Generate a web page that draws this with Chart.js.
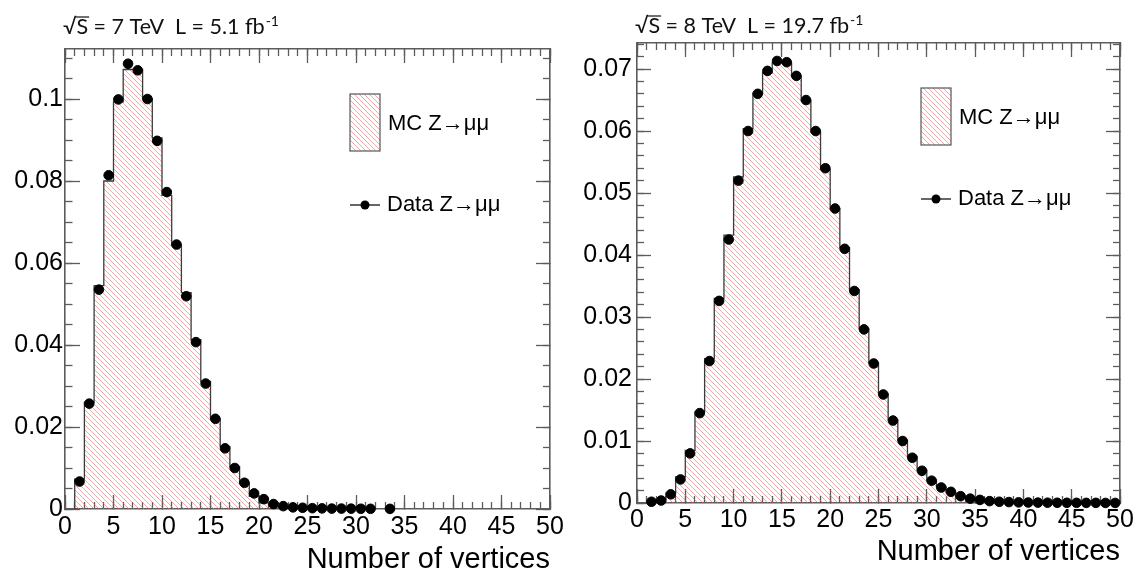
<!DOCTYPE html>
<html>
<head>
<meta charset="utf-8">
<script src="https://cdn.jsdelivr.net/npm/chart.js@4.4.1/dist/chart.umd.min.js"></script>
<style>
  html, body { margin: 0; padding: 0; background: #fff; }
  body { width: 1141px; height: 579px; position: relative; overflow: hidden; }
  canvas { position: absolute; top: 0; }
  #c7 { left: 0; }
  #c8 { left: 570px; }
</style>
</head>
<body>
<canvas id="c7" width="570" height="579"></canvas>
<canvas id="c8" width="571" height="579"></canvas>
<script>
/* Primary vertex multiplicity, Z -> mumu events, 2011 (7 TeV) and 2012 (8 TeV) */

const X_TITLE = 'Number of vertices';
const MC_LABEL = 'MC Z\u2192\u03bc\u03bc';
const DATA_LABEL = 'Data Z\u2192\u03bc\u03bc';
const X_TICK_STEP = 5;

// 7 TeV, L = 5.1 fb-1  (one entry per unit bin, first bin starts at 1)
const energy7 = '7';
const lumi7 = '5.1';
const data7Start = 1;
const data7 = [0.0067, 0.0257, 0.0535, 0.0814, 0.0999, 0.1086, 0.1070, 0.1000, 0.0898, 0.0773,
               0.0645, 0.0519, 0.0407, 0.0306, 0.0220, 0.0148, 0.0100, 0.0064, 0.0038, 0.0024,
               0.0012, 0.0007, 0.0004, 0.0003, 0.0002, 0.00015, 0.0001, 0.0001, 0.00008, 0.00006,
               0.00005, null, 0.00003];
const mc7Start = 1;
const mc7 = [0.0073, 0.0260, 0.0545, 0.0800, 0.0993, 0.1072, 0.1072, 0.1000, 0.0905, 0.0765,
             0.0643, 0.0528, 0.0413, 0.0311, 0.0220, 0.0152, 0.0103, 0.0063, 0.0031, 0.0015,
             0.0008, 0.0004, 0.0002, 0.0001, 0.00005, 0.00003, 0.00002, 0.00001];
const yMax7 = 0.1122;
const yStep7 = 0.02;
const yMinorStep7 = 0.005;

// 8 TeV, L = 19.7 fb-1
const energy8 = '8';
const lumi8 = '19.7';
const data8Start = 1;
const data8 = [0.0002, 0.0004, 0.0014, 0.0038, 0.0080, 0.0145, 0.0229, 0.0326, 0.0425, 0.0520,
               0.0600, 0.0660, 0.0697, 0.0713, 0.0711, 0.0689, 0.0650, 0.0600, 0.0540, 0.0475,
               0.0410, 0.0342, 0.0280, 0.0225, 0.0175, 0.0133, 0.0100, 0.0073, 0.0052, 0.0036,
               0.0025, 0.0018, 0.0011, 0.0007, 0.0005, 0.0003, 0.0002, 0.00015, 0.0001, 0.00008,
               0.00006, 0.00005, 0.00004, 0.00003, 0.00003, 0.00002, 0.00002, 0.00001, 0.00001];
const mc8Start = 1;
const mc8 = [0.0001, 0.0005, 0.0016, 0.0042, 0.0085, 0.0147, 0.0233, 0.0330, 0.0432, 0.0526,
             0.0604, 0.0661, 0.0694, 0.0710, 0.0710, 0.0688, 0.0649, 0.0598, 0.0538, 0.0475,
             0.0412, 0.0344, 0.0281, 0.0226, 0.0176, 0.0134, 0.0101, 0.0075, 0.0053, 0.0037,
             0.0026, 0.0017, 0.0011, 0.0007, 0.0004, 0.0003, 0.0002, 0.0001, 0.00008, 0.00005];
const yMax8 = 0.0742;
const yStep8 = 0.01;
const yMinorStep8 = 0.002;

const AXIS_COLOR = '#5c5c5c';
const FONT = '"Liberation Sans", Arial, sans-serif';
const HEAD_FONT = 'Lato, "Open Sans", sans-serif';

// red diagonal hatch used for the MC histogram
function makeHatch() {
  const s = 5;
  const c = document.createElement('canvas');
  c.width = s; c.height = s;
  const g = c.getContext('2d');
  g.strokeStyle = 'rgba(238, 95, 95, 0.55)';
  g.lineWidth = 1;
  for (let k = -1; k <= 1; k++) {
    g.beginPath();
    g.moveTo(0, k * s);
    g.lineTo(s, s + k * s);
    g.stroke();
  }
  return g.createPattern(c, 'repeat');
}
const hatch = makeHatch();

// stepped outline: rise at the first edge, fall after the last bin
function histPoints(start, vals) {
  const pts = [{x: start, y: 0}];
  vals.forEach((v, i) => pts.push({x: start + i, y: v}));
  pts.push({x: start + vals.length, y: 0});
  return pts;
}

// markers at bin centres, empty bins skipped
function dataPoints(start, vals) {
  const pts = [];
  vals.forEach((v, i) => { if (v !== null) pts.push({x: start + i + 0.5, y: v}); });
  return pts;
}

const tickLabel = v => String(+v.toFixed(4));

function fixSize(size) {
  return scale => {
    if (scale.isHorizontal()) scale.height = size; else scale.width = size;
    scale.paddingLeft = scale.paddingRight = scale.paddingTop = scale.paddingBottom = 0;
  };
}

// ticks point into the frame (negative length), nothing drawn across the plot
function tickGrid(len) {
  return {drawOnChartArea: false, drawTicks: true, tickLength: -len, color: AXIS_COLOR,
          tickColor: AXIS_COLOR, tickWidth: 1.3, z: 0};
}

function buildScales(p) {
  const frame = {display: true, color: AXIS_COLOR, width: 1.6, z: 0};
  const none = {display: false};
  const xBase = {type: 'linear', axis: 'x', min: 0, max: 50};
  const yBase = {type: 'linear', axis: 'y', min: 0, max: p.yMax};
  return {
    x: Object.assign({}, xBase, {
      position: 'bottom', weight: 1, border: frame, grid: tickGrid(14),
      ticks: {stepSize: X_TICK_STEP, includeBounds: false, autoSkip: false, maxRotation: 0,
              padding: p.xTickPad, color: '#000', font: {family: FONT, size: 25}},
      title: {display: true, text: X_TITLE, align: 'end', color: '#000',
              font: {family: FONT, size: 29}, padding: {top: 0, bottom: p.titlePad}},
      afterFit: fixSize(p.bottom)
    }),
    xMinor: Object.assign({}, xBase, {
      position: 'bottom', weight: 0, border: none, grid: tickGrid(7),
      ticks: {display: false, stepSize: 1}, afterFit: fixSize(0)
    }),
    xTop: Object.assign({}, xBase, {
      position: 'top', weight: 1, border: frame, grid: tickGrid(14),
      ticks: {display: false, stepSize: X_TICK_STEP}, afterFit: fixSize(p.top)
    }),
    xTopMinor: Object.assign({}, xBase, {
      position: 'top', weight: 0, border: none, grid: tickGrid(7),
      ticks: {display: false, stepSize: 1}, afterFit: fixSize(0)
    }),
    y: Object.assign({}, yBase, {
      position: 'left', weight: 1, border: frame, grid: tickGrid(p.yTick),
      ticks: {stepSize: p.yStep, includeBounds: false, autoSkip: false, callback: tickLabel,
              padding: p.yTickPad, color: '#000', font: {family: FONT, size: 25}},
      afterFit: fixSize(p.left)
    }),
    yMinor: Object.assign({}, yBase, {
      position: 'left', weight: 0, border: none, grid: tickGrid(p.yTick / 2),
      ticks: {display: false, stepSize: p.yMinorStep, includeBounds: false}, afterFit: fixSize(0)
    }),
    yRight: Object.assign({}, yBase, {
      position: 'right', weight: 1, border: frame, grid: tickGrid(14),
      ticks: {display: false, stepSize: p.yStep, includeBounds: false}, afterFit: fixSize(p.right)
    }),
    yRightMinor: Object.assign({}, yBase, {
      position: 'right', weight: 0, border: none, grid: tickGrid(7),
      ticks: {display: false, stepSize: p.yMinorStep, includeBounds: false}, afterFit: fixSize(0)
    })
  };
}

// legend boxes and the energy / luminosity line
const panelText = {
  id: 'panelText',
  afterDraw(chart, args, o) {
    const ctx = chart.ctx;
    ctx.save();

    // MC entry
    ctx.fillStyle = hatch;
    ctx.fillRect(o.lx, o.ly, 30, 57);
    ctx.strokeStyle = '#555';
    ctx.lineWidth = 1.2;
    ctx.strokeRect(o.lx, o.ly, 30, 57);
    ctx.fillStyle = '#000';
    ctx.font = '22px ' + FONT;
    ctx.textBaseline = 'middle';
    ctx.fillText(MC_LABEL, o.lx + 38, o.ly + 30);

    // data entry
    const dy = o.ly + 111;
    ctx.strokeStyle = '#000';
    ctx.lineWidth = 1.2;
    ctx.beginPath();
    ctx.moveTo(o.lx, dy);
    ctx.lineTo(o.lx + 30, dy);
    ctx.stroke();
    ctx.beginPath();
    ctx.arc(o.lx + 15, dy, 4.5, 0, Math.PI * 2);
    ctx.fill();
    ctx.fillText(DATA_LABEL, o.lx + 37, dy);

    // sqrt(S) = E TeV  L = x fb-1
    ctx.textBaseline = 'alphabetic';
    ctx.fillStyle = '#111';
    ctx.strokeStyle = '#111';
    ctx.font = '21.5px ' + HEAD_FONT;
    let x = o.hx;
    const y = o.hy;
    ctx.fillText('\u221a', x, y);
    x += ctx.measureText('\u221a').width;
    ctx.fillText('S', x, y);
    const sw = ctx.measureText('S').width;
    ctx.lineWidth = 1.2;
    ctx.beginPath();
    ctx.moveTo(x - 1, y - 17);
    ctx.lineTo(x + sw + 1, y - 17);
    ctx.stroke();
    x += sw;
    const main = ' = ' + o.energy + ' TeV  L = ' + o.lumi + ' fb';
    ctx.fillText(main, x, y);
    x += ctx.measureText(main).width;
    ctx.font = '14px ' + HEAD_FONT;
    ctx.fillText('-1', x + 1, y - 8);

    ctx.restore();
  }
};

function makeChart(id, p) {
  return new Chart(document.getElementById(id), {
    type: 'line',
    data: {
      datasets: [
        {
          type: 'scatter', label: DATA_LABEL, data: dataPoints(p.dataStart, p.data),
          backgroundColor: '#000', borderColor: '#000', pointRadius: 4.8, pointHoverRadius: 4.8,
          order: 0, clip: false
        },
        {
          type: 'line', label: MC_LABEL, data: histPoints(p.mcStart, p.mc),
          stepped: true, fill: 'origin', backgroundColor: hatch, borderColor: '#3c3c3c',
          borderWidth: 1.3, pointRadius: 0, tension: 0, order: 1
        }
      ]
    },
    options: {
      responsive: false,
      animation: false,
      devicePixelRatio: 1,
      layout: {padding: 0},
      plugins: {
        legend: {display: false},
        tooltip: {enabled: false},
        panelText: p.text
      },
      scales: buildScales(p)
    },
    plugins: [panelText]
  });
}

makeChart('c7', {
  data: data7, dataStart: data7Start, mc: mc7, mcStart: mc7Start,
  yMax: yMax7, yStep: yStep7, yMinorStep: yMinorStep7, yTick: 15,
  left: 65, right: 20, top: 49, bottom: 70,
  xTickPad: 17, yTickPad: 17, titlePad: 2,
  text: {lx: 350, ly: 94, hx: 63, hy: 34, energy: energy7, lumi: lumi7}
});

makeChart('c8', {
  data: data8, dataStart: data8Start, mc: mc8, mcStart: mc8Start,
  yMax: yMax8, yStep: yStep8, yMinorStep: yMinorStep8, yTick: 14,
  left: 67, right: 21, top: 43, bottom: 76,
  xTickPad: 16, yTickPad: 19, titlePad: 10,
  text: {lx: 351, ly: 88, hx: 65, hy: 33, energy: energy8, lumi: lumi8}
});
</script>
</body>
</html>
